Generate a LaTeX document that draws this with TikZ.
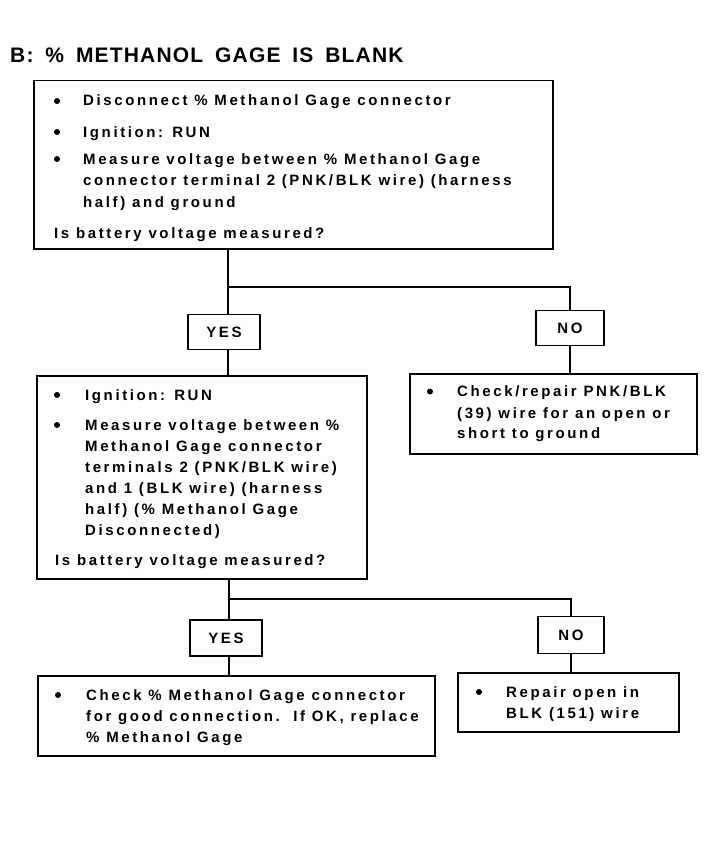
\documentclass[tikz,border=0pt]{standalone}
\usepackage{fontspec}
\newfontfamily\bodyf[LetterSpace=17.4]{Liberation Sans Bold}
\newfontfamily\titlef[LetterSpace=5.6,WordSpace=1.7]{Liberation Sans Bold}
\begin{document}
\begin{tikzpicture}[x=1pt,y=-1pt,
  box/.style={draw, line width=1.5pt, anchor=north west, inner sep=0pt},
  lbl/.style={draw, line width=1.5pt, inner sep=0pt, font=\bodyf\fontsize{15}{18}\selectfont},
  txt/.style={anchor=base west, inner sep=0pt, font=\bodyf\fontsize{15}{18}\selectfont},
  dot/.style={circle, fill, inner sep=0pt, minimum size=6pt},
  conn/.style={line width=2.2pt}]
\useasboundingbox (0,0) rectangle (720,848);
% title
\node[anchor=base west, inner sep=0pt, font=\titlef\fontsize{21}{24}\selectfont] (title) at (10,63) {B: \% METHANOL GAGE IS BLANK};
% boxes
\node[box, minimum width=519pt, minimum height=168pt] (b1) at (33,80) {};
\node[box, minimum width=330pt, minimum height=203pt] (b2) at (36,375) {};
\node[box, minimum width=287pt, minimum height=80pt] (b3) at (409,373) {};
\node[box, minimum width=397pt, minimum height=80pt] (b4) at (37,675) {};
\node[box, minimum width=221pt, minimum height=59pt] (b5) at (457,672) {};
% labels
\node[lbl, minimum width=72pt, minimum height=35pt] (yes1) at (224,332) {YES};
\node[lbl, minimum width=68pt, minimum height=35pt] (no1) at (570,328) {NO};
\node[lbl, minimum width=72pt, minimum height=36pt] (yes2) at (226,638) {YES};
\node[lbl, minimum width=66pt, minimum height=37pt] (no2) at (571,635) {NO};
% junctions
\coordinate (j1) at (228,287);
\coordinate (j2) at (229,599);
% connectors
\draw[conn] (j1 |- b1.south) -- (j1) -- (j1 |- yes1.north);
\draw[conn] (j1) -| (no1.north);
\draw[conn] (j1 |- yes1.south) -- (j1 |- b2.north);
\draw[conn] (no1.south) -- (no1.south |- b3.north);
\draw[conn] (j2 |- b2.south) -- (j2) -- (j2 |- yes2.north);
\draw[conn] (j2) -| (no2.north);
\draw[conn] (j2 |- yes2.south) -- (j2 |- b4.north);
\draw[conn] (no2.south) -- (no2.south |- b5.north);
% box 1 text
\node[dot] (d1a) at (57,101) {};
\node[txt] (t1a) at (83,106) {Disconnect \% Methanol Gage connector};
\node[dot] (d1b) at (57,132) {};
\node[txt] (t1b) at (83,137) {Ignition: RUN};
\node[dot] (d1c) at (57,159) {};
\node[txt] (t1c) at (83,164) {Measure voltage between \% Methanol Gage};
\node[txt] (t1d) at (83,185.5) {connector terminal 2 (PNK/BLK wire) (harness};
\node[txt] (t1e) at (83,207) {half) and ground};
\node[txt] (t1f) at (54,238) {Is battery voltage measured?};
% box 2 text
\node[dot] (d2a) at (57,395) {};
\node[txt] (t2a) at (85,400) {Ignition: RUN};
\node[dot] (d2b) at (57,425) {};
\node[txt] (t2b) at (85,430) {Measure voltage between \%};
\node[txt] (t2c) at (85,451) {Methanol Gage connector};
\node[txt] (t2d) at (85,472) {terminals 2 (PNK/BLK wire)};
\node[txt] (t2e) at (85,493) {and 1 (BLK wire) (harness};
\node[txt] (t2f) at (85,514) {half) (\% Methanol Gage};
\node[txt] (t2g) at (85,535) {Disconnected)};
\node[txt] (t2h) at (55,565) {Is battery voltage measured?};
% box 3 text
\node[dot] (d3a) at (430,391.5) {};
\node[txt] (t3a) at (457,396.5) {Check/repair PNK/BLK};
\node[txt] (t3b) at (457,418) {(39) wire for an open or};
\node[txt] (t3c) at (457,438.5) {short to ground};
% box 4 text
\node[dot] (d4a) at (58,695) {};
\node[txt] (t4a) at (86,700) {Check \% Methanol Gage connector};
\node[txt] (t4b) at (86,721) {for good connection.\ \ If OK, replace};
\node[txt] (t4c) at (86,742) {\% Methanol Gage};
% box 5 text
\node[dot] (d5a) at (479,692) {};
\node[txt] (t5a) at (506,697) {Repair open in};
\node[txt] (t5b) at (506,718) {BLK (151) wire};
\end{tikzpicture}
\end{document}
